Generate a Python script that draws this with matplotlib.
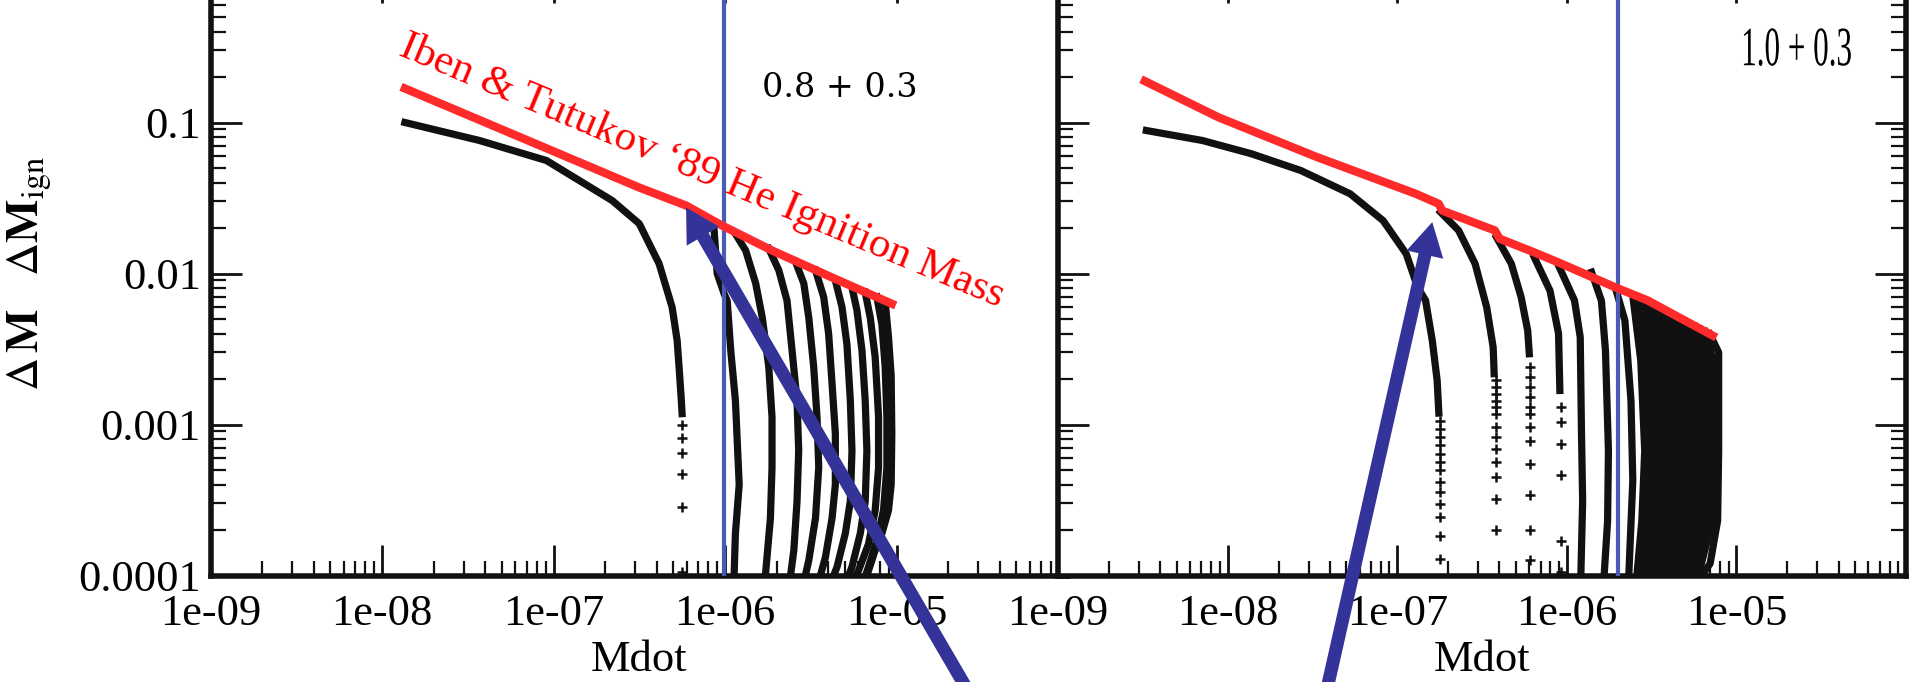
import matplotlib
matplotlib.use("Agg")
import matplotlib.pyplot as plt
from matplotlib.ticker import LogLocator, NullFormatter
from matplotlib.patheffects import AbstractPathEffect
from matplotlib.transforms import Affine2D

plt.rcParams['font.family'] = ['Liberation Serif', 'DejaVu Serif']
plt.rcParams['mathtext.fontset'] = 'stix'

# ---- values (Mdot vs Delta M) ----
x_ticks = [1e-9, 1e-8, 1e-7, 1e-6, 1e-5, 1e-4]
x_ticklabels = ['1e-09', '1e-08', '1e-07', '1e-06', '1e-05', '']
y_ticks = [1e-4, 1e-3, 1e-2, 1e-1]
y_ticklabels = ['0.0001', '0.001', '0.01', '0.1']
panel_labels = ['0.8 + 0.3', '1.0 + 0.3']
ign_label = 'Iben & Tutukov \u201889 He Ignition Mass'

# left panel (0.8 + 0.3)
left_ign_mdot = [1.36e-8, 3.16e-7, 5.93e-7, 9.6e-7, 1.88e-6, 4.6e-6, 9.4e-6]
left_ign_dm = [0.168, 0.0371, 0.0282, 0.0208, 0.0142, 0.0090, 0.0063]
left_curves = [
    ([1.36e-8, 3.7e-8, 9.1e-8, 2.2e-7, 3.16e-7, 4.13e-7, 4.92e-7, 5.26e-7, 5.4e-7, 5.55e-7, 5.62e-7],
     [0.1, 0.076, 0.056, 0.0304, 0.0214, 0.0116, 0.00596, 0.0036, 0.00238, 0.00151, 0.00118]),
    ([8.6e-7, 9.0e-7, 9.9e-7, 1.03e-6, 1.08e-6, 1.15e-6, 1.21e-6, 1.15e-6, 1.13e-6],
     [0.0208, 0.0100, 0.0073, 0.0066, 0.0031, 0.00144, 0.0004, 0.00019, 1e-4]),
    ([1.15e-6, 1.32e-6, 1.51e-6, 1.65e-6, 1.80e-6, 1.88e-6, 1.88e-6, 1.84e-6, 1.72e-6],
     [0.0183, 0.0142, 0.0086, 0.0051, 0.0024, 0.00112, 0.00052, 0.00024, 1e-4]),
    ([1.80e-6, 2.06e-6, 2.30e-6, 2.46e-6, 2.63e-6, 2.69e-6, 2.63e-6, 2.52e-6, 2.41e-6],
     [0.0146, 0.0105, 0.0066, 0.0031, 0.00144, 0.00067, 0.00031, 0.000147, 1e-4]),
    ([2.58e-6, 2.88e-6, 3.08e-6, 3.29e-6, 3.44e-6, 3.52e-6, 3.37e-6, 3.08e-6, 2.94e-6],
     [0.0119, 0.0086, 0.0051, 0.0024, 0.00112, 0.00052, 0.00024, 0.000126, 1e-4]),
    ([3.37e-6, 3.76e-6, 4.02e-6, 4.21e-6, 4.40e-6, 4.40e-6, 4.21e-6, 3.85e-6, 3.60e-6],
     [0.0105, 0.0070, 0.0040, 0.00186, 0.00087, 0.0004, 0.00024, 0.000132, 1e-4]),
    ([4.40e-6, 4.81e-6, 5.14e-6, 5.38e-6, 5.50e-6, 5.38e-6, 5.03e-6, 4.50e-6, 4.30e-6],
     [0.0090, 0.0060, 0.0034, 0.00144, 0.00067, 0.00031, 0.00019, 0.000114, 1e-4]),
    ([5.50e-6, 5.88e-6, 6.29e-6, 6.57e-6, 6.72e-6, 6.57e-6, 6.15e-6, 5.50e-6, 5.26e-6],
     [0.0081, 0.0057, 0.0031, 0.00144, 0.00067, 0.00031, 0.00019, 0.000114, 1e-4]),
    ([6.57e-6, 7.03e-6, 7.51e-6, 7.86e-6, 7.86e-6, 7.51e-6, 6.87e-6, 6.01e-6, 5.8e-6],
     [0.0075, 0.0051, 0.0028, 0.00112, 0.00052, 0.00027, 0.000162, 0.000108, 1e-4]),
    ([7.68e-6, 8.22e-6, 8.59e-6, 8.79e-6, 8.79e-6, 8.40e-6, 7.68e-6, 6.87e-6, 6.6e-6],
     [0.0070, 0.0046, 0.0024, 0.00112, 0.00052, 0.00027, 0.000171, 0.000114, 1e-4]),
    ([8.59e-6, 8.98e-6, 9.31e-6, 9.39e-6, 9.31e-6, 8.98e-6, 8.22e-6, 7.51e-6, 6.87e-6],
     [0.0065, 0.0038, 0.0021, 0.00087, 0.0004, 0.00027, 0.00019, 0.000147, 0.000108]),
]
left_tail_mdot = [5.6e-7, 5.6e-7, 5.6e-7, 5.6e-7, 5.6e-7, 5.6e-7]
left_tail_dm = [9.85e-4, 8.2e-4, 6.43e-4, 4.67e-4, 2.86e-4, 1.06e-4]
left_vline = 9.9e-7
left_arrow_tip = (5.93e-7, 0.0274)

# right panel (1.0 + 0.3)
right_ign_mdot = [3.25e-9, 8.87e-9, 3.38e-8, 1.29e-7, 1.76e-7, 1.84e-7, 3.76e-7, 4.02e-7,
                  6.43e-7, 9.23e-7, 1.93e-6, 3.0e-6, 7.25e-6]
right_ign_dm = [0.188, 0.108, 0.0589, 0.0337, 0.0289, 0.0261, 0.0193, 0.0170,
                0.0138, 0.01165, 0.0081, 0.00663, 0.00388]
right_curves = [
    ([3.32e-9, 7.1e-9, 1.38e-8, 2.70e-8, 5.28e-8, 8.26e-8, 1.13e-7, 1.32e-7, 1.47e-7, 1.61e-7, 1.72e-7, 1.76e-7],
     [0.0885, 0.076, 0.0621, 0.0481, 0.0337, 0.0224, 0.0135, 0.0081, 0.00663, 0.0036, 0.00196, 0.00119]),
    ([1.80e-7, 2.30e-7, 2.88e-7, 3.37e-7, 3.68e-7, 3.73e-7],
     [0.0255, 0.0193, 0.0116, 0.00598, 0.00325, 0.00217]),
    ([3.85e-7, 4.71e-7, 5.38e-7, 5.88e-7, 6.01e-7],
     [0.0174, 0.0116, 0.00697, 0.00419, 0.00294]),
    ([6.43e-7, 7.96e-7, 8.94e-7, 9.1e-7],
     [0.0128, 0.0077, 0.0040, 0.00168]),
    ([8.94e-7, 1.11e-6, 1.20e-6, 1.22e-6, 1.24e-6, 1.21e-6],
     [0.0113, 0.00663, 0.00379, 9.1e-4, 3.1e-4, 1e-4]),
    ([1.40e-6, 1.60e-6, 1.69e-6, 1.76e-6, 1.74e-6, 1.66e-6],
     [0.0102, 0.0066, 0.0031, 6.7e-4, 2.3e-4, 1e-4]),
    ([1.93e-6, 2.2e-6, 2.39e-6, 2.45e-6, 2.32e-6],
     [0.0081, 0.00489, 0.00144, 4.26e-4, 1e-4]),
]
# packed sequences between ~2e-6 and 8e-6 (drawn as a near-solid block)
right_block = [
    ([2.45e-6, 2.73e-6, 2.88e-6, 2.77e-6, 2.59e-6], [0.0071, 0.00265, 6.7e-4, 2.31e-4, 1e-4]),
    ([2.66e-6, 2.96e-6, 3.12e-6, 3.00e-6, 2.77e-6], [0.0068, 0.00265, 6.7e-4, 2.31e-4, 1e-4]),
    ([2.88e-6, 3.20e-6, 3.38e-6, 3.24e-6, 2.96e-6], [0.0065, 0.00265, 6.7e-4, 2.31e-4, 1e-4]),
    ([3.12e-6, 3.48e-6, 3.66e-6, 3.51e-6, 3.16e-6], [0.0062, 0.00265, 6.7e-4, 2.31e-4, 1e-4]),
    ([3.38e-6, 3.76e-6, 3.97e-6, 3.81e-6, 3.38e-6], [0.00594, 0.00265, 6.7e-4, 2.31e-4, 1e-4]),
    ([3.66e-6, 4.08e-6, 4.30e-6, 4.13e-6, 3.64e-6], [0.00568, 0.00265, 6.7e-4, 2.31e-4, 1e-4]),
    ([3.97e-6, 4.42e-6, 4.66e-6, 4.48e-6, 3.92e-6], [0.00543, 0.00265, 6.7e-4, 2.31e-4, 1e-4]),
    ([4.30e-6, 4.79e-6, 5.05e-6, 4.82e-6, 4.19e-6], [0.0052, 0.00265, 6.7e-4, 2.31e-4, 1e-4]),
    ([4.66e-6, 5.19e-6, 5.48e-6, 5.19e-6, 4.48e-6], [0.00497, 0.00265, 6.7e-4, 2.31e-4, 1e-4]),
    ([4.98e-6, 5.55e-6, 5.86e-6, 5.53e-6, 4.79e-6], [0.00479, 0.00265, 6.7e-4, 2.31e-4, 1e-4]),
    ([5.33e-6, 5.93e-6, 6.26e-6, 5.93e-6, 5.12e-6], [0.00461, 0.00265, 6.7e-4, 2.31e-4, 1e-4]),
    ([5.70e-6, 6.34e-6, 6.65e-6, 6.30e-6, 5.40e-6], [0.00444, 0.00265, 6.7e-4, 2.31e-4, 1e-4]),
    ([6.09e-6, 6.78e-6, 7.06e-6, 6.70e-6, 5.70e-6], [0.00428, 0.00265, 6.7e-4, 2.31e-4, 1e-4]),
    ([6.52e-6, 7.30e-6, 7.45e-6, 7.20e-6, 5.97e-6], [0.00412, 0.00265, 6.7e-4, 2.31e-4, 1e-4]),
    ([6.97e-6, 7.86e-6, 7.86e-6, 7.75e-6, 7.0e-6, 6.26e-6], [0.00397, 0.0030, 6.7e-4, 2.31e-4, 1.2e-4, 1e-4]),
]
right_tails = [
    ([1.79e-7] * 13,
     [1.06e-3, 9.37e-4, 8.24e-4, 7.26e-4, 6.4e-4, 5.63e-4, 4.96e-4, 4.15e-4, 3.56e-4, 2.98e-4, 2.43e-4, 1.84e-4, 1.29e-4]),
    ([3.8e-7] * 13,
     [1.96e-3, 1.77e-3, 1.6e-3, 1.44e-3, 1.3e-3, 1.18e-3, 9.6e-4, 8.24e-4, 6.9e-4, 5.62e-4, 4.48e-4, 3.22e-4, 1.99e-4]),
    ([6.1e-7] * 12,
     [2.4e-3, 2.06e-3, 1.77e-3, 1.52e-3, 1.3e-3, 1.18e-3, 9.6e-4, 7.83e-4, 5.5e-4, 3.39e-4, 1.99e-4, 1.26e-4]),
    ([9.2e-7] * 6, [1.3e-3, 1.04e-3, 7.45e-4, 4.6e-4, 1.7e-4, 1.05e-4]),
]
right_vline = 2.0e-6
right_arrow_tip = (1.61e-7, 0.0219)

BLACK = '#111111'
RED = '#ff2b2b'
VBLUE = '#4a5ab5'
ARROW = '#333399'


class Squeeze(AbstractPathEffect):
    """Narrow the glyphs horizontally about their centre (condensed look)."""

    def __init__(self, sx):
        super().__init__()
        self.sx = sx

    def draw_path(self, renderer, gc, tpath, affine, rgbFace=None):
        ext = tpath.get_extents(affine)
        cx = 0.5 * (ext.x0 + ext.x1)
        squeeze = Affine2D().translate(-cx, 0).scale(self.sx, 1).translate(cx, 0)
        renderer.draw_path(gc, tpath, affine + squeeze, rgbFace)


def style_axis(ax, xlim, show_ylabels):
    ax.set_xscale('log')
    ax.set_yscale('log')
    ax.set_xlim(*xlim)
    ax.set_ylim(1e-4, 1)
    ax.set_xticks(x_ticks)
    ax.set_xticklabels(x_ticklabels)
    ax.set_yticks(y_ticks)
    ax.set_yticklabels(y_ticklabels if show_ylabels else [])
    ax.xaxis.set_minor_locator(LogLocator(base=10, subs=range(2, 10), numticks=20))
    ax.yaxis.set_minor_locator(LogLocator(base=10, subs=range(2, 10), numticks=20))
    ax.xaxis.set_minor_formatter(NullFormatter())
    ax.yaxis.set_minor_formatter(NullFormatter())
    ax.tick_params(which='both', direction='in', top=True, right=not show_ylabels,
                   labelsize=32, color=BLACK)
    ax.tick_params(which='major', length=22, width=2)
    ax.tick_params(which='minor', length=11, width=1.6)
    ax.tick_params(axis='x', pad=13)
    ax.tick_params(axis='y', pad=7)
    for sp in ax.spines.values():
        sp.set_linewidth(4)
        sp.set_color(BLACK)
    ax.set_xlabel('Mdot', fontsize=32)
    ax.xaxis.set_label_coords(0.5, -0.158)
    ax.xaxis.label.set_va('baseline')


def draw_panel(ax, ign_x, ign_y, curves, vline):
    ax.axvline(vline, color=VBLUE, lw=3, zorder=4)
    for cx, cy in curves:
        ax.plot(cx, cy, color=BLACK, lw=5.2, solid_joinstyle='round', zorder=3)
    ax.plot(ign_x, ign_y, color=RED, lw=6, solid_joinstyle='round', zorder=5)


fig = plt.figure(figsize=(19.09, 6.82), dpi=100)
ax1 = fig.add_axes([210.5 / 1909, 106.5 / 682, 857.5 / 1909, 604 / 682])
ax2 = fig.add_axes([1058 / 1909, 106.5 / 682, 848 / 1909, 604 / 682])

style_axis(ax1, (1e-9, 1e-4), True)
style_axis(ax2, (1e-9, 10 ** (-9 + 848 / 171.5)), False)

draw_panel(ax1, left_ign_mdot, left_ign_dm, left_curves, left_vline)
ax1.plot(left_tail_mdot, left_tail_dm, '+', color=BLACK, ms=7, mew=1.8, zorder=3)

draw_panel(ax2, right_ign_mdot, right_ign_dm, right_curves + right_block, right_vline)
for tx, ty in right_tails:
    ax2.plot(tx, ty, '+', color=BLACK, ms=7, mew=1.8, zorder=3)

ax1.set_ylabel(r'$\Delta\,\mathbf{M}\quad\Delta\mathbf{M}_{\mathrm{ign}}$', fontsize=33)
ax1.yaxis.set_label_coords(-0.201, 0.5)
ax1.yaxis.label.set_va('baseline')

ax1.text(0.5685, 0.6531, ign_label, transform=ax1.transAxes, rotation=-22.8,
         rotation_mode='anchor', ha='center', va='baseline', color='red', fontsize=31, zorder=6)
ax1.text(0.734, 0.807, panel_labels[0], transform=ax1.transAxes, ha='center', va='center',
         fontsize=24, family='DejaVu Serif')
ax2.text(0.870, 0.868, panel_labels[1], transform=ax2.transAxes, ha='center', va='center',
         fontsize=40, path_effects=[Squeeze(0.56)])

arrow_style = 'simple,head_length=1.2,head_width=1.35,tail_width=0.47'
for ax, tip, tail in [(ax1, left_arrow_tip, (985, -38)), (ax2, right_arrow_tip, (1320, -38))]:
    ax.annotate('', xy=tip, xycoords='data', xytext=tail, textcoords='figure pixels',
                arrowprops=dict(arrowstyle=arrow_style, fc=ARROW, ec=ARROW, lw=0,
                                shrinkA=0, shrinkB=0, mutation_scale=20),
                annotation_clip=False, zorder=10)

fig.savefig('out.png', dpi=100)
